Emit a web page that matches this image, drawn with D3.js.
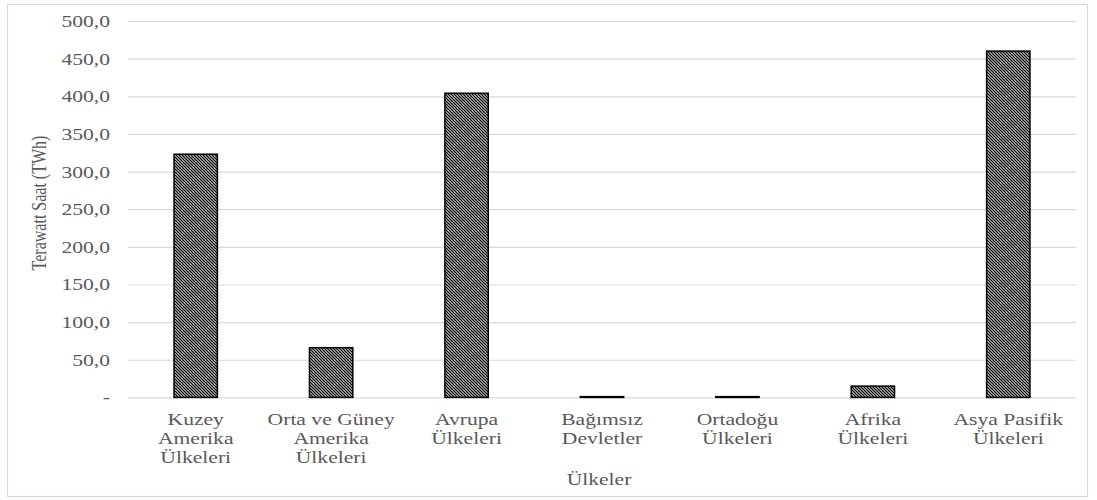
<!DOCTYPE html>
<html>
<head>
<meta charset="utf-8">
<script src="https://cdn.jsdelivr.net/npm/d3@7"></script>
<style>
  html, body { margin: 0; padding: 0; background: #fff; }
  svg { display: block; }
</style>
</head>
<body>
<svg id="chart" width="1097" height="500"></svg>
<script>
// Electricity generation by region (TWh)
const categories = [
  "Kuzey Amerika Ülkeleri",
  "Orta ve Güney Amerika Ülkeleri",
  "Avrupa Ülkeleri",
  "Bağımsız Devletler",
  "Ortadoğu Ülkeleri",
  "Afrika Ülkeleri",
  "Asya Pasifik Ülkeleri"
];
// wrapped lines for each category label
const categoryLines = [
  ["Kuzey", "Amerika", "Ülkeleri"],
  ["Orta ve Güney", "Amerika", "Ülkeleri"],
  ["Avrupa", "Ülkeleri"],
  ["Bağımsız", "Devletler"],
  ["Ortadoğu", "Ülkeleri"],
  ["Afrika", "Ülkeleri"],
  ["Asya Pasifik", "Ülkeleri"]
];
const values = [323, 66, 404, 1, 1, 15, 460];
const yTicks = [0, 50, 100, 150, 200, 250, 300, 350, 400, 450, 500];
const yTitle = "Terawatt Saat (TWh)";
const xTitle = "Ülkeler";

const FONT = "'Liberation Serif', 'Times New Roman', serif";
const TEXT_COLOR = "#595959";

const svg = d3.select("#chart");
const stretch = 1.35; // text is drawn wide

const plot = { left: 128, right: 1076, top: 21, bottom: 397.4 };

// outer chart border
svg.append("rect")
  .attr("x", 7.5).attr("y", 4.5)
  .attr("width", 1080).attr("height", 492)
  .attr("fill", "#fff")
  .attr("stroke", "#d9d9d9")
  .attr("stroke-width", 1.2);

// dark downward diagonal hatch fill
const defs = svg.append("defs");
const pat = defs.append("pattern")
  .attr("id", "hatch")
  .attr("patternUnits", "userSpaceOnUse")
  .attr("width", 3).attr("height", 3);
pat.append("rect").attr("width", 3).attr("height", 3).attr("fill", "#fff");
pat.append("path")
  .attr("d", "M-1,-1 L4,4 M-1,2 L1,4 M2,-1 L4,1")
  .attr("stroke", "#000")
  .attr("stroke-width", 1.3);

const x = d3.scaleBand()
  .domain(categories)
  .range([plot.left, plot.right])
  .paddingInner(0.68)
  .paddingOuter(0.34);

const y = d3.scaleLinear()
  .domain([0, 500])
  .range([plot.bottom, plot.top]);

const fmt = d => d === 0 ? "-" : d.toFixed(1).replace(".", ",");

// y axis: gridlines and labels
const yAxis = d3.axisLeft(y)
  .tickValues(yTicks)
  .tickSize(-(plot.right - plot.left))
  .tickPadding(0)
  .tickFormat(fmt);

const gy = svg.append("g")
  .attr("transform", `translate(${plot.left},0)`)
  .call(yAxis)
  .attr("font-family", FONT);
gy.select(".domain").remove();
gy.selectAll(".tick line")
  .attr("stroke", "#d9d9d9")
  .attr("stroke-width", 1.2);
gy.selectAll(".tick text")
  .attr("x", null).attr("dy", null)
  .attr("text-anchor", "end")
  .attr("font-family", FONT)
  .attr("font-size", 16)
  .attr("fill", TEXT_COLOR)
  .attr("dominant-baseline", "central")
  .attr("transform", `translate(-18,0) scale(${stretch},1)`);

// bars
svg.append("g")
  .selectAll("rect")
  .data(values)
  .join("rect")
  .attr("x", (d, i) => x(categories[i]))
  .attr("width", x.bandwidth())
  .attr("y", d => y(d))
  .attr("height", d => y(0) - y(d))
  .attr("fill", "url(#hatch)")
  .attr("stroke", "#000")
  .attr("stroke-width", 1.5);

// category labels
const gx = svg.append("g");
categories.forEach((c, i) => {
  const cx = x(c) + x.bandwidth() / 2;
  const t = gx.append("text")
    .attr("text-anchor", "middle")
    .attr("font-family", FONT)
    .attr("font-size", 16)
    .attr("fill", TEXT_COLOR)
    .attr("transform", `translate(${cx},425) scale(${stretch},1)`);
  categoryLines[i].forEach((line, j) => {
    t.append("tspan")
      .attr("x", 0)
      .attr("y", j * 19)
      .text(line);
  });
});

// axis titles
svg.append("text")
  .attr("text-anchor", "middle")
  .attr("font-family", FONT)
  .attr("font-size", 16)
  .attr("fill", TEXT_COLOR)
  .attr("transform", `translate(${(plot.left + plot.right) / 2 - 3},485) scale(${stretch},1)`)
  .text(xTitle);

svg.append("text")
  .attr("text-anchor", "middle")
  .attr("font-family", FONT)
  .attr("font-size", 16)
  .attr("fill", TEXT_COLOR)
  .attr("transform", `translate(46,203) scale(${stretch},1) rotate(-90)`)
  .text(yTitle);
</script>
</body>
</html>
